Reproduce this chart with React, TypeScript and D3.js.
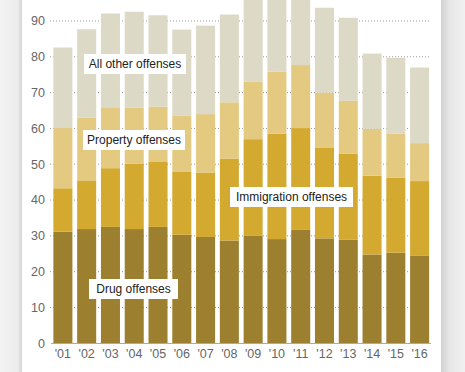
import * as d3 from "d3";

const years = ["'01", "'02", "'03", "'04", "'05", "'06", "'07", "'08", "'09", "'10", "'11", "'12", "'13", "'14", "'15", "'16"];
const drug = [31.2, 31.9, 32.5, 31.9, 32.5, 30.3, 29.7, 28.7, 30.0, 29.1, 31.8, 29.3, 28.9, 24.8, 25.3, 24.4];
const immigration = [12.1, 13.6, 16.4, 18.3, 18.3, 17.7, 18.0, 22.8, 27.0, 29.4, 28.3, 25.4, 24.0, 22.0, 20.9, 20.9];
const property = [16.8, 17.5, 16.8, 15.6, 15.3, 15.5, 16.3, 15.8, 16.0, 17.4, 17.6, 15.3, 14.8, 13.1, 12.3, 10.6];
const other = [22.5, 24.7, 26.4, 26.8, 25.5, 24.1, 24.7, 24.5, 25.0, 23.0, 21.5, 23.7, 23.2, 21.0, 21.2, 21.1];
const yTicks = [0, 10, 20, 30, 40, 50, 60, 70, 80, 90];

const seriesKeys = ["drug", "immigration", "property", "other"];
const colors = { drug: "#9c7f2f", immigration: "#d3a92f", property: "#e4c980", other: "#dcd9c6" };

const W = 465;
const H = 372;

export default function App() {
  const table = years.map((yr, i) => ({
    year: yr,
    drug: drug[i],
    immigration: immigration[i],
    property: property[i],
    other: other[i],
  }));
  const stacked = d3.stack().keys(seriesKeys)(table);

  const x = d3.scaleBand().domain(years).range([51, 431.5]).paddingInner(0.2).paddingOuter(0.1);
  const y = d3.scaleLinear().domain([0, 90]).range([343.3, 21]);

  const font = "'Liberation Sans', Arial, sans-serif";

  // label boxes
  const labels = [
    { text: "All other offenses", x: 84, y: 54, w: 102 },
    { text: "Property offenses", x: 83, y: 130, w: 102 },
    { text: "Immigration offenses", x: 230, y: 187, w: 123 },
    { text: "Drug offenses", x: 89, y: 279, w: 89 },
  ];

  return (
    <svg width={W} height={H} style={{ position: "absolute", left: 0, top: 0 }}>
      <defs>
        <linearGradient id="lg" x1="0" x2="1">
          <stop offset="0" stopColor="#f3f3f3" />
          <stop offset="0.8" stopColor="#ececec" />
          <stop offset="1" stopColor="#d4d4d4" />
        </linearGradient>
        <linearGradient id="rg" x1="0" x2="1">
          <stop offset="0" stopColor="#d2d2d2" />
          <stop offset="0.35" stopColor="#e6e6e6" />
          <stop offset="1" stopColor="#f1f1f1" />
        </linearGradient>
      </defs>
      <rect x={0} y={0} width={W} height={H} fill="#fff" />
      <rect x={0} y={0} width={22} height={H} fill="url(#lg)" />
      <rect x={441} y={0} width={24} height={H} fill="url(#rg)" />

      {yTicks.filter((t) => t > 0).map((t) => (
        <line key={t} x1={50} x2={430} y1={y(t)} y2={y(t)} stroke="#999" strokeDasharray="1,2" strokeWidth={1} />
      ))}

      {stacked.map((s) => (
        <g key={s.key} fill={colors[s.key]}>
          {s.map((d, i) => (
            <rect key={i} x={x(years[i])} width={x.bandwidth()} y={y(d[1])} height={y(d[0]) - y(d[1])} />
          ))}
        </g>
      ))}

      <line x1={51} x2={431} y1={343.5} y2={343.5} stroke="#aaa" strokeWidth={1} />

      {yTicks.map((t) => (
        <text key={t} x={45} y={y(t)} dy="0.35em" textAnchor="end" fontFamily={font} fontSize={12.5} fill="#666">
          {t}
        </text>
      ))}
      {years.map((yr) => (
        <text key={yr} x={x(yr) + x.bandwidth() / 2} y={358} textAnchor="middle" fontFamily={font} fontSize={12.5} fill="#666">
          {yr}
        </text>
      ))}

      {labels.map((l) => (
        <g key={l.text}>
          <rect x={l.x} y={l.y} width={l.w} height={20} fill="#fff" />
          <text x={l.x + l.w / 2} y={l.y + 10} dy="0.35em" textAnchor="middle" fontFamily={font} fontSize={12} fill="#222">
            {l.text}
          </text>
        </g>
      ))}
    </svg>
  );
}
